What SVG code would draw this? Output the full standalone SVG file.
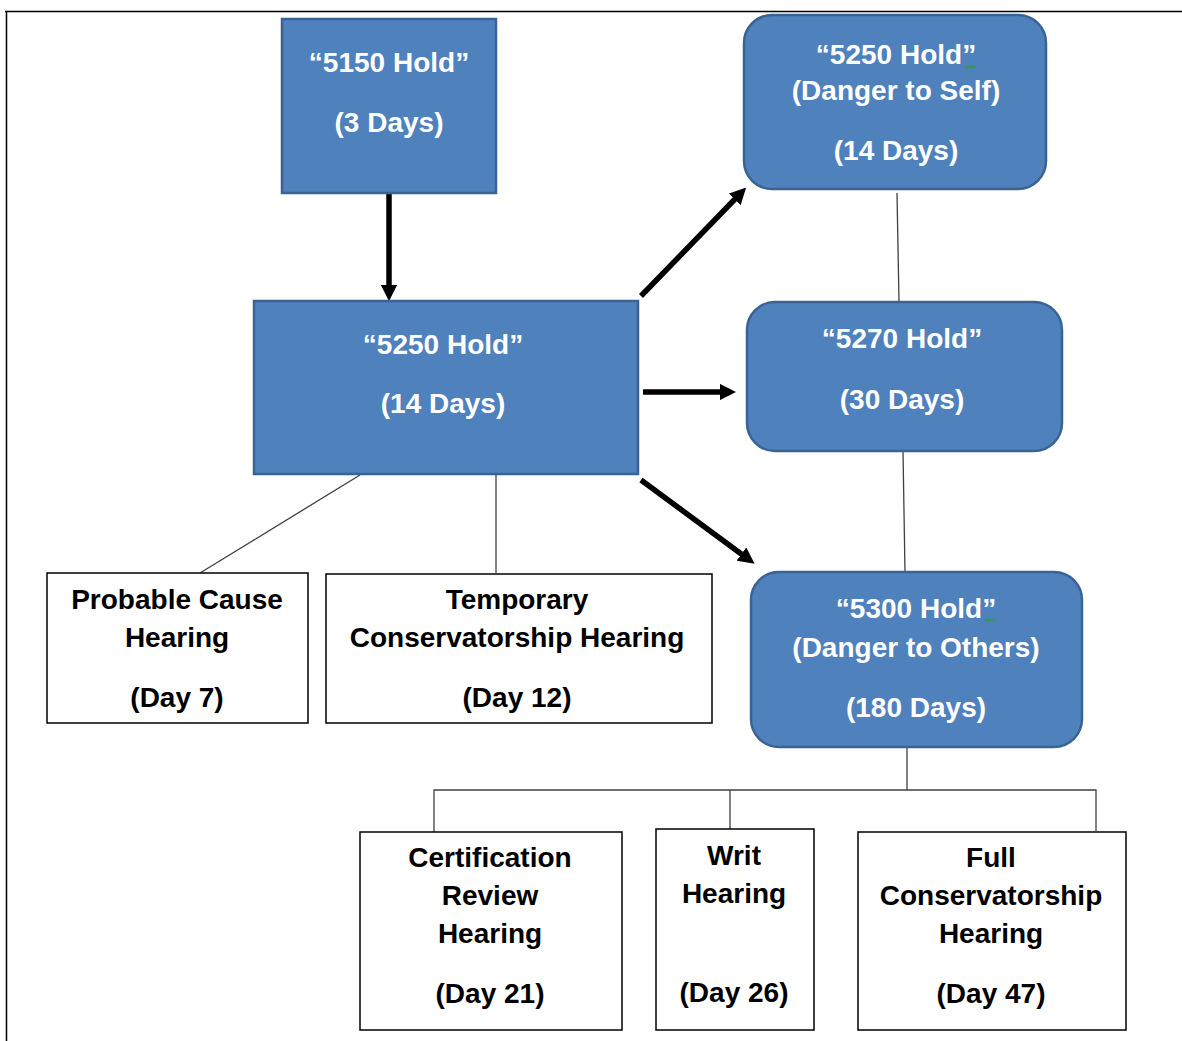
<svg xmlns="http://www.w3.org/2000/svg" width="1182" height="1041" viewBox="0 0 1182 1041">
<style>
.blue{fill:#4F81BD;stroke:#3A6394;stroke-width:2.5}
.white{fill:#ffffff;stroke:#000000;stroke-width:1.5}
.tw{font-family:"Liberation Sans",Arial,sans-serif;font-weight:bold;font-size:28px;fill:#ffffff;text-anchor:middle}
.tb{font-family:"Liberation Sans",Arial,sans-serif;font-weight:bold;font-size:28px;fill:#000000;text-anchor:middle}
.thick{stroke:#000;stroke-width:5.5;fill:none;marker-end:url(#ah)}
.thin{stroke:#404040;stroke-width:1.3;fill:none}
.sq{stroke:#2E9E3A;stroke-width:1.3;fill:none}
</style>
<defs>
<marker id="ah" viewBox="0 0 10 10" refX="2" refY="5" markerWidth="3" markerHeight="3" orient="auto" markerUnits="strokeWidth">
<path d="M0,0 L10,5 L0,10 z" fill="#000"/>
</marker>
</defs>
<rect width="1182" height="1041" fill="#ffffff"/>
<g id="frame">
<line x1="5" y1="11.5" x2="1182" y2="11.5" stroke="#000" stroke-width="1.5"/>
<line x1="6.5" y1="11" x2="6.5" y2="1041" stroke="#000" stroke-width="1.5"/>
</g>
<g id="connectors">
<line class="thick" x1="389" y1="193" x2="389" y2="288"/>
<line class="thick" x1="641" y1="296" x2="737" y2="197"/>
<line class="thick" x1="643" y1="392" x2="723" y2="392"/>
<line class="thick" x1="641" y1="480" x2="744" y2="556"/>
<line class="thin" x1="897" y1="193" x2="899" y2="302"/>
<line class="thin" x1="903" y1="451" x2="905" y2="572"/>
<line class="thin" x1="907" y1="747" x2="907" y2="790"/>
<path class="thin" stroke="#000" d="M434,832 V790 H1096 V831 M730,790 V829"/>
<line class="thin" x1="360" y1="475" x2="200" y2="573"/>
<line class="thin" x1="496" y1="475" x2="496" y2="573"/>
</g>
<g id="n5150">
<rect class="blue" x="282" y="19" width="214" height="174"/>
<text class="tw" x="389" y="72">“5150 Hold”</text>
<text class="tw" x="389" y="132">(3 Days)</text>
</g>
<g id="n5250">
<rect class="blue" x="254" y="301" width="384" height="173"/>
<text class="tw" x="443" y="354">“5250 Hold”</text>
<text class="tw" x="443" y="413">(14 Days)</text>
</g>
<g id="n5250self">
<rect class="blue" x="744" y="15" width="302" height="174" rx="28"/>
<text class="tw" x="896" y="64">“5250 Hold”</text>
<text class="tw" x="896" y="100">(Danger to Self)</text>
<text class="tw" x="896" y="160">(14 Days)</text>
<path class="sq" d="M965,66 l2,2 l2,-2 l2,2 l2,-2 l2,2"/>
</g>
<g id="n5270">
<rect class="blue" x="747" y="302" width="315" height="149" rx="28"/>
<text class="tw" x="902" y="348">“5270 Hold”</text>
<text class="tw" x="902" y="409">(30 Days)</text>
</g>
<g id="n5300">
<rect class="blue" x="751" y="572" width="331" height="175" rx="28"/>
<text class="tw" x="916" y="618">“5300 Hold”</text>
<text class="tw" x="916" y="657">(Danger to Others)</text>
<text class="tw" x="916" y="717">(180 Days)</text>
<path class="sq" d="M985,619 l2,2 l2,-2 l2,2 l2,-2 l2,2"/>
</g>
<g id="nProbable">
<rect class="white" x="47" y="573" width="261" height="150"/>
<text class="tb" x="177" y="609">Probable Cause</text>
<text class="tb" x="177" y="647">Hearing</text>
<text class="tb" x="177" y="707">(Day 7)</text>
</g>
<g id="nTemporary">
<rect class="white" x="326" y="574" width="386" height="149"/>
<text class="tb" x="517" y="609">Temporary</text>
<text class="tb" x="517" y="647">Conservatorship Hearing</text>
<text class="tb" x="517" y="707">(Day 12)</text>
</g>
<g id="nCert">
<rect class="white" x="360" y="832" width="262" height="198"/>
<text class="tb" x="490" y="867">Certification</text>
<text class="tb" x="490" y="905">Review</text>
<text class="tb" x="490" y="943">Hearing</text>
<text class="tb" x="490" y="1003">(Day 21)</text>
</g>
<g id="nWrit">
<rect class="white" x="656" y="829" width="158" height="201"/>
<text class="tb" x="734" y="865">Writ</text>
<text class="tb" x="734" y="903">Hearing</text>
<text class="tb" x="734" y="1002">(Day 26)</text>
</g>
<g id="nFull">
<rect class="white" x="858" y="832" width="268" height="198"/>
<text class="tb" x="991" y="867">Full</text>
<text class="tb" x="991" y="905">Conservatorship</text>
<text class="tb" x="991" y="943">Hearing</text>
<text class="tb" x="991" y="1003">(Day 47)</text>
</g>
</svg>
